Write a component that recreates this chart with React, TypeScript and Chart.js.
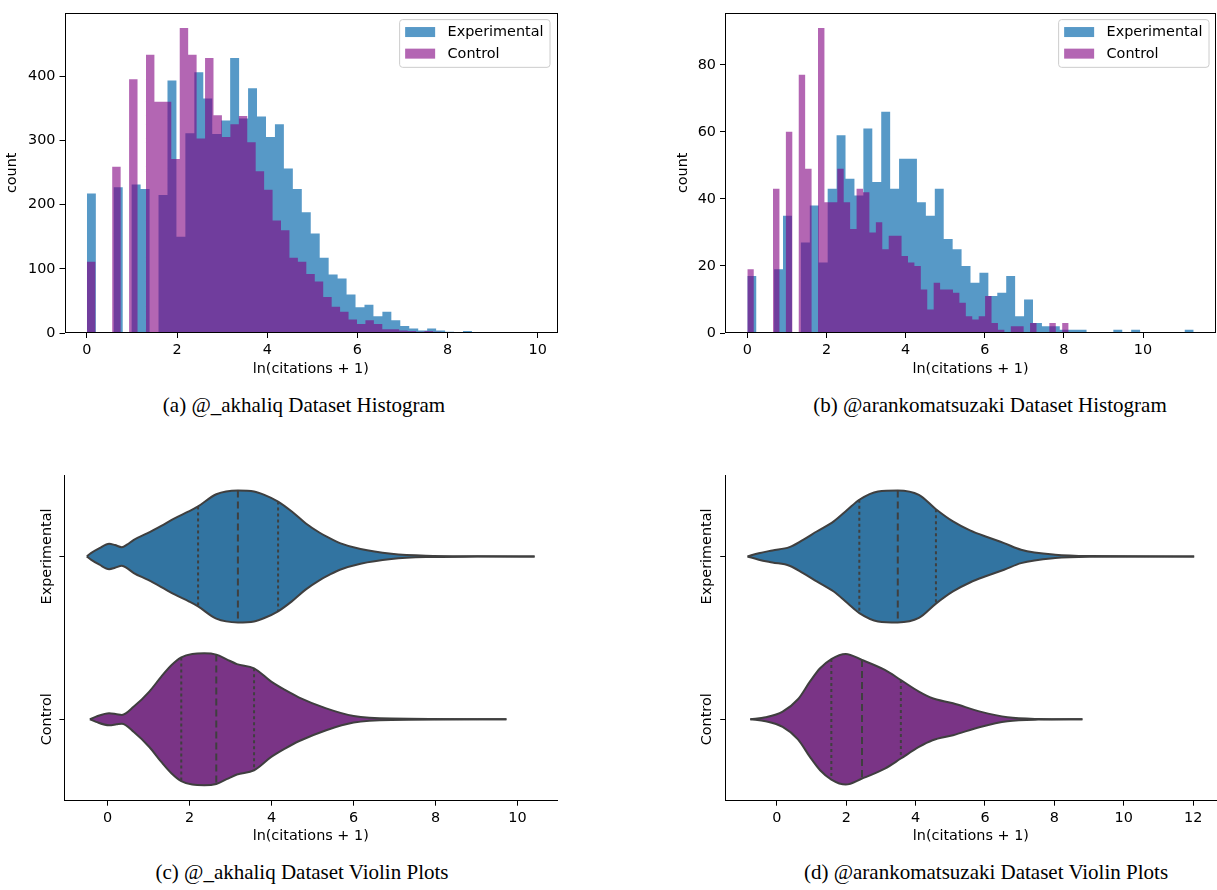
import React, { useEffect, useRef } from 'react';
import { Chart, registerables } from 'chart.js';

Chart.register(...registerables);

const FAMILY = '"DejaVu Sans", "Liberation Sans", sans-serif';
const SERIF = '"Liberation Serif", "Times New Roman", serif';
const TXT = '#000000';
const FS = 14.4;

// ---------------- (a) @_akhaliq histogram ----------------
const A_EXP_COUNTS = [217, 0, 0, 227, 0, 231, 224, 0, 215, 393, 150, 311, 406, 365, 310, 331, 428, 334, 381, 337, 305, 325, 256, 224, 188, 155, 117, 91, 85, 60, 40, 44, 26, 33, 20, 11, 7, 4, 7, 4, 2, 1, 3, 1, 1, 1, 0, 1, 0, 1];
const A_EXP_MAX = 9.93;
const A_CTRL_COUNTS = [111, 0, 0, 259, 0, 395, 0, 433, 360, 360, 271, 475, 433, 303, 428, 339, 305, 325, 338, 297, 252, 223, 175, 160, 117, 111, 92, 80, 56, 41, 33, 21, 14, 20, 14, 6, 6, 4, 3, 2, 3, 2, 1, 1, 0, 1, 0, 1, 0, 1];
const A_CTRL_MAX = 9.36;
const A_X_TICKS = [0, 2, 4, 6, 8, 10];
const A_Y_TICKS = [0, 100, 200, 300, 400];

// ---------------- (b) @arankomatsuzaki histogram ----------------
const B_EXP_COUNTS = [17, 0, 0, 19, 35, 0, 27, 38, 21, 43, 59, 46, 41, 61, 45, 66, 43, 52, 52, 39, 35, 43, 28, 25, 20, 15, 18, 11, 12, 17, 5, 10, 3, 2, 2, 1, 1, 1, 0, 0, 0, 1, 0, 1, 0, 0, 0, 0, 0, 1];
const B_EXP_MAX = 11.28;
const B_CTRL_COUNTS = [19, 0, 0, 0, 43, 0, 60, 0, 77, 49, 0, 91, 39, 39, 49, 39, 31, 43, 42, 30, 33, 25, 29, 29, 23, 21, 20, 13, 7, 15, 13, 13, 12, 9, 5, 4, 5, 11, 3, 1, 0, 2, 2, 0, 3, 0, 0, 3, 0, 3];
const B_CTRL_MAX = 8.12;
const B_X_TICKS = [0, 2, 4, 6, 8, 10];
const B_Y_TICKS = [0, 20, 40, 60, 80];

// ---------------- (c) @_akhaliq violins (position, half-width) ----------------
const C_EXP_X = [-0.508, -0.407, -0.198, 0.037, 0.179, 0.347, 0.473, 0.64, 0.975, 1.31, 1.645, 1.98, 2.207, 2.651, 3.179, 3.573, 3.824, 4.159, 4.494, 4.83, 5.165, 5.417, 5.668, 6.171, 6.924, 7.762, 9.02, 10.418];
const C_EXP_W = [0, 0.02, 0.051, 0.078, 0.07, 0.057, 0.072, 0.102, 0.143, 0.188, 0.235, 0.276, 0.307, 0.382, 0.405, 0.399, 0.378, 0.337, 0.276, 0.204, 0.147, 0.112, 0.082, 0.045, 0.016, 0.004, 0.001, 0];
const C_CTRL_X = [-0.433, -0.282, 0.037, 0.221, 0.347, 0.64, 1.017, 1.31, 1.562, 1.797, 2.065, 2.358, 2.651, 2.903, 3.154, 3.573, 3.992, 4.327, 4.662, 5.333, 6.003, 6.924, 9.731];
const C_CTRL_W = [0, 0.016, 0.037, 0.031, 0.027, 0.078, 0.17, 0.262, 0.333, 0.38, 0.401, 0.405, 0.397, 0.368, 0.339, 0.313, 0.231, 0.18, 0.135, 0.067, 0.02, 0.004, 0];
const C_EXP_Q = [2.207, 3.179, 4.159];
const C_EXP_QW = [0.307, 0.405, 0.337];
const C_CTRL_Q = [1.797, 2.651, 3.573];
const C_CTRL_QW = [0.38, 0.397, 0.313];
const C_X_TICKS = [0, 2, 4, 6, 8, 10];

// ---------------- (d) @arankomatsuzaki violins ----------------
const D_EXP_X = [-0.845, -0.52, -0.128, 0.363, 0.756, 1.149, 1.64, 2.033, 2.377, 2.917, 3.486, 4.095, 4.586, 5.077, 5.568, 6.059, 6.55, 7.041, 8.023, 9.005, 12.03];
const D_EXP_W = [0, 0.02, 0.037, 0.057, 0.102, 0.153, 0.215, 0.286, 0.348, 0.399, 0.405, 0.378, 0.29, 0.215, 0.16, 0.119, 0.082, 0.041, 0.01, 0.002, 0];
const D_CTRL_X = [-0.766, -0.324, 0.167, 0.609, 0.953, 1.247, 1.571, 1.984, 2.455, 3.113, 3.575, 4.095, 4.488, 5.077, 5.863, 6.648, 7.532, 8.809];
const D_CTRL_W = [0, 0.012, 0.047, 0.123, 0.231, 0.313, 0.37, 0.401, 0.364, 0.303, 0.241, 0.17, 0.129, 0.098, 0.047, 0.012, 0.002, 0];
const D_EXP_Q = [2.377, 3.486, 4.586];
const D_EXP_QW = [0.348, 0.405, 0.29];
const D_CTRL_Q = [1.571, 2.455, 3.575];
const D_CTRL_QW = [0.37, 0.364, 0.241];
const D_X_TICKS = [0, 2, 4, 6, 8, 10, 12];

const GROUPS = ['Experimental', 'Control'];
const GROUP_POS = [0, 1];
const X_TITLE = 'ln(citations + 1)';
const Y_TITLE = 'count';
const CAPTIONS = [
  '(a) @_akhaliq Dataset Histogram',
  '(b) @arankomatsuzaki Dataset Histogram',
  '(c) @_akhaliq Dataset Violin Plots',
  '(d) @arankomatsuzaki Dataset Violin Plots',
];

const EXP_HIST = 'rgba(31,119,180,0.75)';
const CTRL_HIST = 'rgba(128,0,128,0.6)';
const EXP_VIOLIN = '#3274a1';
const CTRL_VIOLIN = '#7a3486';
const EDGE = '#3f3f3f';

type Panel = { left: number; top: number; width: number; height: number; l: number; t: number; r: number; b: number; titleY: number };

const PANEL_A: Panel = { left: 0, top: 0, width: 580, height: 390, l: 64.5, t: 6, r: 557, b: 333, titleY: 369 };
const PANEL_B: Panel = { left: 671, top: 0, width: 546, height: 390, l: 725, t: 6, r: 1216, b: 333, titleY: 369 };
const PANEL_C: Panel = { left: 0, top: 440, width: 580, height: 420, l: 64.4, t: 475, r: 557, b: 800.7, titleY: 836 };
const PANEL_D: Panel = { left: 671, top: 440, width: 546, height: 420, l: 725.2, t: 475, r: 1216.5, b: 800.7, titleY: 836 };

const font = () => ({ family: FAMILY, size: FS, lineHeight: 1.2 });

function histPoints(counts: number[], max: number) {
  const w = max / counts.length;
  const pts = counts.map((c, i) => ({ x: i * w, y: c }));
  pts.push({ x: max, y: counts[counts.length - 1] });
  return pts;
}

const framePlugin = {
  id: 'frame',
  afterDraw(chart: any, _a: any, opts: any) {
    if (!opts || !opts.on) return;
    const { ctx, chartArea: ca } = chart;
    ctx.save();
    ctx.strokeStyle = TXT;
    ctx.lineWidth = 1;
    ctx.strokeRect(Math.round(ca.left) + 0.5, Math.round(ca.top) + 0.5, Math.round(ca.right - ca.left) - 1, Math.round(ca.bottom - ca.top) - 1);
    ctx.restore();
  },
};

const legendPlugin = {
  id: 'mplLegend',
  afterDraw(chart: any, _a: any, opts: any) {
    if (!opts || !opts.items) return;
    const { ctx, chartArea: ca } = chart;
    ctx.save();
    ctx.font = `${FS}px ${FAMILY}`;
    const tw = Math.max(...opts.items.map((it: any) => ctx.measureText(it.label).width));
    const w = 5.5 + 30 + 12.4 + tw + 6.5;
    const h = 47.7;
    const x = ca.right - 7 - w;
    const y = ca.top + 7;
    const r = 3;
    ctx.beginPath();
    ctx.moveTo(x + r, y);
    ctx.lineTo(x + w - r, y);
    ctx.arcTo(x + w, y, x + w, y + r, r);
    ctx.lineTo(x + w, y + h - r);
    ctx.arcTo(x + w, y + h, x + w - r, y + h, r);
    ctx.lineTo(x + r, y + h);
    ctx.arcTo(x, y + h, x, y + h - r, r);
    ctx.lineTo(x, y + r);
    ctx.arcTo(x, y, x + r, y, r);
    ctx.closePath();
    ctx.fillStyle = 'rgba(255,255,255,0.8)';
    ctx.fill();
    ctx.strokeStyle = '#cccccc';
    ctx.lineWidth = 1;
    ctx.stroke();
    opts.items.forEach((it: any, i: number) => {
      const cy = y + 12.4 + i * 21.6;
      ctx.fillStyle = it.color;
      ctx.fillRect(x + 5.5, cy - 5, 30, 10);
      ctx.fillStyle = TXT;
      ctx.textAlign = 'left';
      ctx.textBaseline = 'middle';
      ctx.fillText(it.label, x + 5.5 + 30 + 12.4, cy + 0.5);
    });
    ctx.restore();
  },
};

const catLabelPlugin = {
  id: 'catLabels',
  afterDraw(chart: any, _a: any, opts: any) {
    if (!opts || !opts.labels) return;
    const { ctx, chartArea: ca } = chart;
    const ys = chart.scales.y;
    ctx.save();
    ctx.font = `${FS}px ${FAMILY}`;
    ctx.fillStyle = TXT;
    ctx.textAlign = 'center';
    ctx.textBaseline = 'middle';
    opts.labels.forEach((lab: string, i: number) => {
      const py = ys.getPixelForValue(opts.values[i]);
      ctx.save();
      ctx.translate(ca.left - 17.5, py);
      ctx.rotate(-Math.PI / 2);
      ctx.fillText(lab, 0, 0);
      ctx.restore();
    });
    ctx.restore();
  },
};

function xAxis(p: Panel, min: number, max: number, ticks: number[], spine: boolean) {
  const xHeight = p.top + p.height - p.b;
  const padBottom = p.top + p.height - p.titleY - FS * 0.6;
  return {
    type: 'linear',
    min,
    max,
    afterBuildTicks: (s: any) => {
      s.ticks = ticks.map((v) => ({ value: v }));
    },
    afterFit: (s: any) => {
      s.height = xHeight;
    },
    ticks: { autoSkip: false, maxRotation: 0, minRotation: 0, padding: 4, color: TXT, font: font(), callback: (v: any) => String(v) },
    grid: { display: true, drawOnChartArea: false, drawTicks: true, tickLength: 5, color: TXT, lineWidth: 1 },
    border: { display: spine, color: TXT, width: 1, z: 1 },
    title: { display: true, text: X_TITLE, color: TXT, font: font(), padding: { top: 0, bottom: padBottom } },
  };
}

function histConfig(p: Panel, exp: number[], expMax: number, ctrl: number[], ctrlMax: number, xt: number[], yt: number[]) {
  const dmax = Math.max(expMax, ctrlMax);
  const ymax = Math.max(...exp, ...ctrl) * 1.05;
  return {
    type: 'line',
    data: {
      datasets: [
        { label: GROUPS[1], data: histPoints(ctrl, ctrlMax), stepped: true, fill: 'origin', backgroundColor: CTRL_HIST, borderWidth: 0, borderColor: 'rgba(0,0,0,0)', pointRadius: 0, order: 0 },
        { label: GROUPS[0], data: histPoints(exp, expMax), stepped: true, fill: 'origin', backgroundColor: EXP_HIST, borderWidth: 0, borderColor: 'rgba(0,0,0,0)', pointRadius: 0, order: 1 },
      ],
    },
    options: {
      responsive: false,
      animation: false,
      devicePixelRatio: 1,
      events: [],
      layout: { padding: { left: 0, top: p.t - p.top, right: p.left + p.width - p.r, bottom: 0 } },
      scales: {
        x: xAxis(p, -0.05 * dmax, dmax * 1.05, xt, false),
        y: {
          type: 'linear',
          min: 0,
          max: ymax,
          afterBuildTicks: (s: any) => {
            s.ticks = yt.map((v) => ({ value: v }));
          },
          afterFit: (s: any) => {
            s.width = p.l - p.left;
          },
          ticks: { autoSkip: false, padding: 4, color: TXT, font: font(), callback: (v: any) => String(v) },
          grid: { display: true, drawOnChartArea: false, drawTicks: true, tickLength: 5, color: TXT, lineWidth: 1 },
          border: { display: false },
          title: { display: true, text: Y_TITLE, color: TXT, font: font(), padding: { top: 3.5, bottom: 0 } },
        },
      },
      plugins: {
        legend: { display: false },
        tooltip: { enabled: false },
        frame: { on: true },
        mplLegend: { items: [{ label: GROUPS[0], color: EXP_HIST }, { label: GROUPS[1], color: CTRL_HIST }] },
      },
    },
    plugins: [framePlugin, legendPlugin],
  };
}

function violinPair(xs: number[], ws: number[], center: number, color: string) {
  const upper = xs.map((x, i) => ({ x, y: center - ws[i] }));
  const lower = xs.map((x, i) => ({ x, y: center + ws[i] }));
  const common = { borderColor: EDGE, borderWidth: 2, pointRadius: 0, cubicInterpolationMode: 'monotone', order: 1 };
  return [
    { ...common, data: upper, fill: false },
    { ...common, data: lower, fill: '-1', backgroundColor: color },
  ];
}

function quartiles(qs: number[], qw: number[], center: number) {
  return qs.map((q, i) => ({
    data: [
      { x: q, y: center - qw[i] },
      { x: q, y: center + qw[i] },
    ],
    borderColor: EDGE,
    borderWidth: 2,
    borderDash: i === 1 ? [7, 4] : [3, 3],
    pointRadius: 0,
    fill: false,
    order: 0,
  }));
}

function violinConfig(p: Panel, ex: number[], ew: number[], cx: number[], cw: number[], eq: number[], eqw: number[], cq: number[], cqw: number[], xt: number[]) {
  const all = [...ex, ...cx];
  const lo = Math.min(...all);
  const hi = Math.max(...all);
  const m = (hi - lo) * 0.05;
  return {
    type: 'line',
    data: {
      datasets: [
        ...violinPair(ex, ew, GROUP_POS[0], EXP_VIOLIN),
        ...violinPair(cx, cw, GROUP_POS[1], CTRL_VIOLIN),
        ...quartiles(eq, eqw, GROUP_POS[0]),
        ...quartiles(cq, cqw, GROUP_POS[1]),
      ],
    },
    options: {
      responsive: false,
      animation: false,
      devicePixelRatio: 1,
      events: [],
      layout: { padding: { left: 0, top: p.t - p.top, right: p.left + p.width - p.r, bottom: 0 } },
      scales: {
        x: xAxis(p, lo - m, hi + m, xt, true),
        y: {
          type: 'linear',
          min: -0.5,
          max: 1.5,
          reverse: true,
          afterBuildTicks: (s: any) => {
            s.ticks = GROUP_POS.map((v) => ({ value: v }));
          },
          afterFit: (s: any) => {
            s.width = p.l - p.left;
          },
          ticks: { display: false },
          grid: { display: true, drawOnChartArea: false, drawTicks: true, tickLength: 5, color: TXT, lineWidth: 1 },
          border: { display: true, color: TXT, width: 1, z: 1 },
        },
      },
      plugins: {
        legend: { display: false },
        tooltip: { enabled: false },
        catLabels: { labels: GROUPS, values: GROUP_POS },
      },
    },
    plugins: [catLabelPlugin],
  };
}

function ChartCanvas({ p, make }: { p: Panel; make: () => any }) {
  const ref = useRef<HTMLCanvasElement>(null);
  useEffect(() => {
    const chart = new Chart(ref.current as HTMLCanvasElement, make());
    return () => chart.destroy();
  }, []);
  return (
    <canvas
      ref={ref}
      width={p.width}
      height={p.height}
      style={{ position: 'absolute', left: p.left, top: p.top, width: p.width, height: p.height }}
    />
  );
}

function Caption({ text, cx, cy }: { text: string; cx: number; cy: number }) {
  return (
    <div
      style={{
        position: 'absolute',
        left: cx - 300,
        top: cy - 12,
        width: 600,
        textAlign: 'center',
        fontFamily: SERIF,
        fontSize: 21,
        lineHeight: '21px',
        color: '#000',
        whiteSpace: 'nowrap',
      }}
    >
      {text}
    </div>
  );
}

export default function App() {
  return (
    <div style={{ position: 'absolute', left: 0, top: 0, width: 1217, height: 890, background: '#fff', overflow: 'hidden' }}>
      <ChartCanvas p={PANEL_A} make={() => histConfig(PANEL_A, A_EXP_COUNTS, A_EXP_MAX, A_CTRL_COUNTS, A_CTRL_MAX, A_X_TICKS, A_Y_TICKS)} />
      <ChartCanvas p={PANEL_B} make={() => histConfig(PANEL_B, B_EXP_COUNTS, B_EXP_MAX, B_CTRL_COUNTS, B_CTRL_MAX, B_X_TICKS, B_Y_TICKS)} />
      <ChartCanvas p={PANEL_C} make={() => violinConfig(PANEL_C, C_EXP_X, C_EXP_W, C_CTRL_X, C_CTRL_W, C_EXP_Q, C_EXP_QW, C_CTRL_Q, C_CTRL_QW, C_X_TICKS)} />
      <ChartCanvas p={PANEL_D} make={() => violinConfig(PANEL_D, D_EXP_X, D_EXP_W, D_CTRL_X, D_CTRL_W, D_EXP_Q, D_EXP_QW, D_CTRL_Q, D_CTRL_QW, D_X_TICKS)} />
      <Caption text={CAPTIONS[0]} cx={304} cy={407} />
      <Caption text={CAPTIONS[1]} cx={990} cy={407} />
      <Caption text={CAPTIONS[2]} cx={302} cy={874} />
      <Caption text={CAPTIONS[3]} cx={986} cy={874} />
    </div>
  );
}
